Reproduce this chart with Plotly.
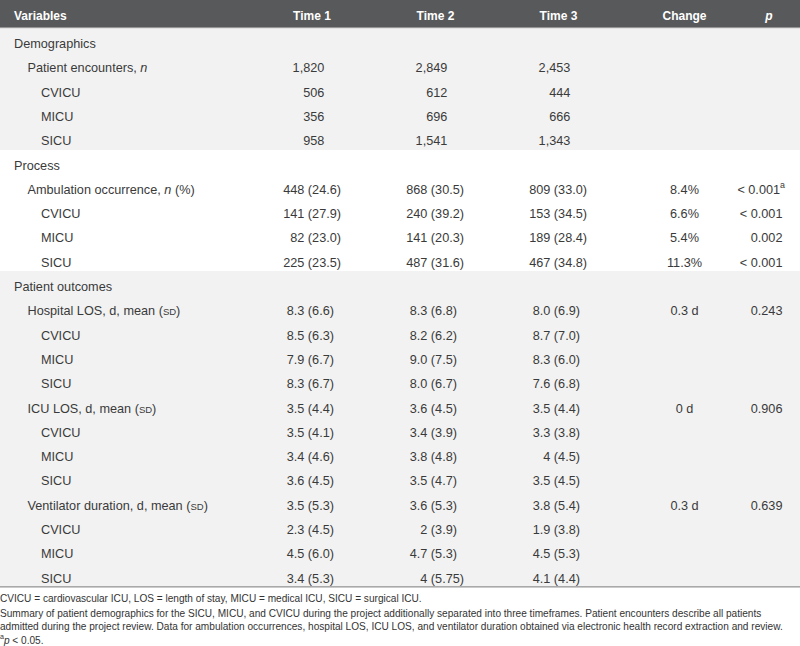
import plotly.graph_objects as go

# ---------------- data ----------------
SD = "(<span style=\"font-size:9.5px\">SD</span>)"
variables = [
    "Demographics", "Patient encounters, <i>n</i>", "CVICU", "MICU", "SICU",
    "Process", "Ambulation occurrence, <i>n</i> (%)", "CVICU", "MICU", "SICU",
    "Patient outcomes",
    "Hospital LOS, d, mean " + SD, "CVICU", "MICU", "SICU",
    "ICU LOS, d, mean " + SD, "CVICU", "MICU", "SICU",
    "Ventilator duration, d, mean " + SD, "CVICU", "MICU", "SICU",
]
levels = [0, 1, 2, 2, 2,
          0, 1, 2, 2, 2,
          0, 1, 2, 2, 2, 1, 2, 2, 2, 1, 2, 2, 2]
sections = [0] * 5 + [1] * 5 + [2] * 13

time1 = ["", "1,820", "506", "356", "958",
         "", "448 (24.6)", "141 (27.9)", "82 (23.0)", "225 (23.5)",
         "", "8.3 (6.6)", "8.5 (6.3)", "7.9 (6.7)", "8.3 (6.7)",
         "3.5 (4.4)", "3.5 (4.1)", "3.4 (4.6)", "3.6 (4.5)",
         "3.5 (5.3)", "2.3 (4.5)", "4.5 (6.0)", "3.4 (5.3)"]
time2 = ["", "2,849", "612", "696", "1,541",
         "", "868 (30.5)", "240 (39.2)", "141 (20.3)", "487 (31.6)",
         "", "8.3 (6.8)", "8.2 (6.2)", "9.0 (7.5)", "8.0 (6.7)",
         "3.6 (4.5)", "3.4 (3.9)", "3.8 (4.8)", "3.5 (4.7)",
         "3.6 (5.3)", "2 (3.9)", "4.7 (5.3)", "4 (5.75)"]
time3 = ["", "2,453", "444", "666", "1,343",
         "", "809 (33.0)", "153 (34.5)", "189 (28.4)", "467 (34.8)",
         "", "8.0 (6.9)", "8.7 (7.0)", "8.3 (6.0)", "7.6 (6.8)",
         "3.5 (4.4)", "3.3 (3.8)", "4 (4.5)", "3.5 (4.5)",
         "3.8 (5.4)", "1.9 (3.8)", "4.5 (5.3)", "4.1 (4.4)"]
change = ["", "", "", "", "",
          "", "8.4%", "6.6%", "5.4%", "11.3%",
          "", "0.3 d", "", "", "",
          "0 d", "", "", "",
          "0.3 d", "", "", ""]
p_values = ["", "", "", "", "",
            "", "< 0.001<sup>a</sup>", "< 0.001", "0.002", "< 0.001",
            "", "0.243", "", "", "",
            "0.906", "", "", "",
            "0.639", "", "", ""]

headers = ["Variables", "Time 1", "Time 2", "Time 3", "Change", "<i>p</i>"]

footnotes = [
    "CVICU = cardiovascular ICU, LOS = length of stay, MICU = medical ICU, SICU = surgical ICU.",
    "Summary of patient demographics for the SICU, MICU, and CVICU during the project additionally separated into three timeframes. Patient encounters describe all patients",
    "admitted during the project review. Data for ambulation occurrences, hospital LOS, ICU LOS, and ventilator duration obtained via electronic health record extraction and review.",
    "<sup>a</sup><i>p</i> < 0.05.",
]

# ---------------- layout constants (pixels) ----------------
W, H = 800, 646
HEADER_H = 28
ROW_H = 24.3
TEXT_DY = 4.7
HEAD_DY = 3.0
INDENT0, INDENT_STEP = 14, 13.5
COL_RIGHT = {"t1": 341, "t2": 464, "t3": 587, "p": 785}
CHANGE_CENTER = 684.5
HEAD_X = [14, 312, 435.5, 558.5, 684.5, 769]
HEAD_POS = ["middle right", "middle center", "middle center", "middle center", "middle center", "middle center"]
FOOT_Y = [599, 614, 627, 641]

FONT = "Liberation Sans, Arial, sans-serif"
TXT = "#3a3a3a"
GRAY, WHITE, HEAD_BG = "#f2f2f2", "#ffffff", "#58595b"
FIG, THIN = "\u2007", "\u2009"


def tpad(v):
    # decimal-style alignment of right-aligned values
    if not v:
        return v
    if "(" in v:
        inner = v[v.index("(") + 1:v.index(")")]
        digits = sum(ch.isdigit() for ch in inner)
        return v + FIG * max(0, 3 - digits)
    return v + FIG * 2 + THIN


def ppad(v):
    if not v:
        return v
    return v if "<sup>" in v else v + THIN


n = len(variables)
centers = [HEADER_H + ROW_H * (i + 0.5) for i in range(n)]
text_y = [c + TEXT_DY for c in centers]
row_fill = [GRAY if s % 2 == 0 else WHITE for s in sections]

fig = go.Figure()

# row background bands
fig.add_trace(go.Bar(orientation="h", y=centers, x=[W] * n, base=0, width=ROW_H,
                     marker=dict(color=row_fill, line=dict(width=0)),
                     hoverinfo="skip", showlegend=False))
# header band
fig.add_trace(go.Bar(orientation="h", y=[HEADER_H / 2], x=[W], base=0, width=HEADER_H,
                     marker=dict(color=HEAD_BG, line=dict(width=0)),
                     hoverinfo="skip", showlegend=False))

# header texts
fig.add_trace(go.Scatter(x=HEAD_X, y=[HEADER_H / 2 + HEAD_DY] * len(headers),
                         text=["<b>" + h + "</b>" for h in headers],
                         mode="text", textposition=HEAD_POS,
                         textfont=dict(family=FONT, size=12, color="white"),
                         hoverinfo="skip", showlegend=False, cliponaxis=False))


def text_col(xs, vals, pos):
    keep = [i for i, v in enumerate(vals) if v]
    fig.add_trace(go.Scatter(x=[xs[i] for i in keep], y=[text_y[i] for i in keep],
                             text=[vals[i] for i in keep], mode="text", textposition=pos,
                             textfont=dict(family=FONT, size=12.7, color=TXT),
                             hoverinfo="skip", showlegend=False, cliponaxis=False))


text_col([INDENT0 + INDENT_STEP * lv for lv in levels], variables, "middle right")
text_col([COL_RIGHT["t1"]] * n, [tpad(v) for v in time1], "middle left")
text_col([COL_RIGHT["t2"]] * n, [tpad(v) for v in time2], "middle left")
text_col([COL_RIGHT["t3"]] * n, [tpad(v) for v in time3], "middle left")
text_col([CHANGE_CENTER] * n, change, "middle center")
text_col([COL_RIGHT["p"]] * n, [ppad(v) for v in p_values], "middle left")

# footnotes
fig.add_trace(go.Scatter(x=[0] * len(footnotes), y=FOOT_Y, text=footnotes, mode="text",
                         textposition="middle right",
                         textfont=dict(family=FONT, size=10.1, color="#333333"),
                         hoverinfo="skip", showlegend=False, cliponaxis=False))

table_bottom = HEADER_H + ROW_H * n
fig.add_shape(type="line", xref="x", yref="y", x0=0, x1=W, y0=table_bottom, y1=table_bottom,
              line=dict(color="#7a7a7a", width=1))
fig.add_shape(type="line", xref="x", yref="y", x0=0, x1=W, y0=HEADER_H, y1=HEADER_H,
              line=dict(color="#d2d2d2", width=1))

fig.update_layout(width=W, height=H, margin=dict(l=0, r=0, t=0, b=0),
                  paper_bgcolor="white", plot_bgcolor="white",
                  barmode="overlay", bargap=0, hovermode=False,
                  xaxis=dict(range=[0, W], visible=False, fixedrange=True),
                  yaxis=dict(range=[H, 0], visible=False, fixedrange=True))

# remove the browser's default 8px page margin so the 800x646 figure fills the window
fig.write_html("out.html", config={"displayModeBar": False, "staticPlot": True},
               post_script="document.body.style.margin='0';")
